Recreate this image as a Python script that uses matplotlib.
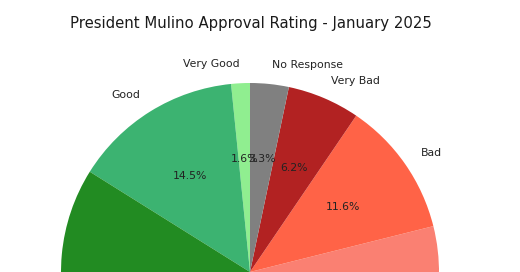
import matplotlib
matplotlib.use("Agg")
import matplotlib.pyplot as plt

categories = ["Very Good", "Good", "Regular", "Poor", "Bad", "Very Bad", "No Response"]
values = [1.6, 14.5, 29.7, 33.1, 11.6, 6.2, 3.3]
colors = ["#90EE90", "#3CB371", "#228B22", "#FA8072", "#FF6347", "#B22222", "#808080"]
title = "President Mulino Approval Rating - January 2025"

W, H = 520, 272
fig = plt.figure(figsize=(W / 100, H / 100), dpi=100)
cx, cy, R = 250, 272, 189  # pixel coords from top-left
ax = fig.add_axes([(cx - R) / W, (H - cy - R) / H, 2 * R / W, 2 * R / H])
ax.pie(values, labels=categories, colors=colors, autopct="%1.1f%%",
       startangle=90, counterclock=True,
       textprops={"fontsize": 7.8, "color": "#222222"})
ax.set_xlim(-1, 1)
ax.set_ylim(-1, 1)
ax.axis("off")
fig.text(250.5 / W, 1 - 23.5 / H, title, ha="center", va="center", fontsize=10.7, color="#1a1a1a")
fig.savefig("out.png", dpi=100)
